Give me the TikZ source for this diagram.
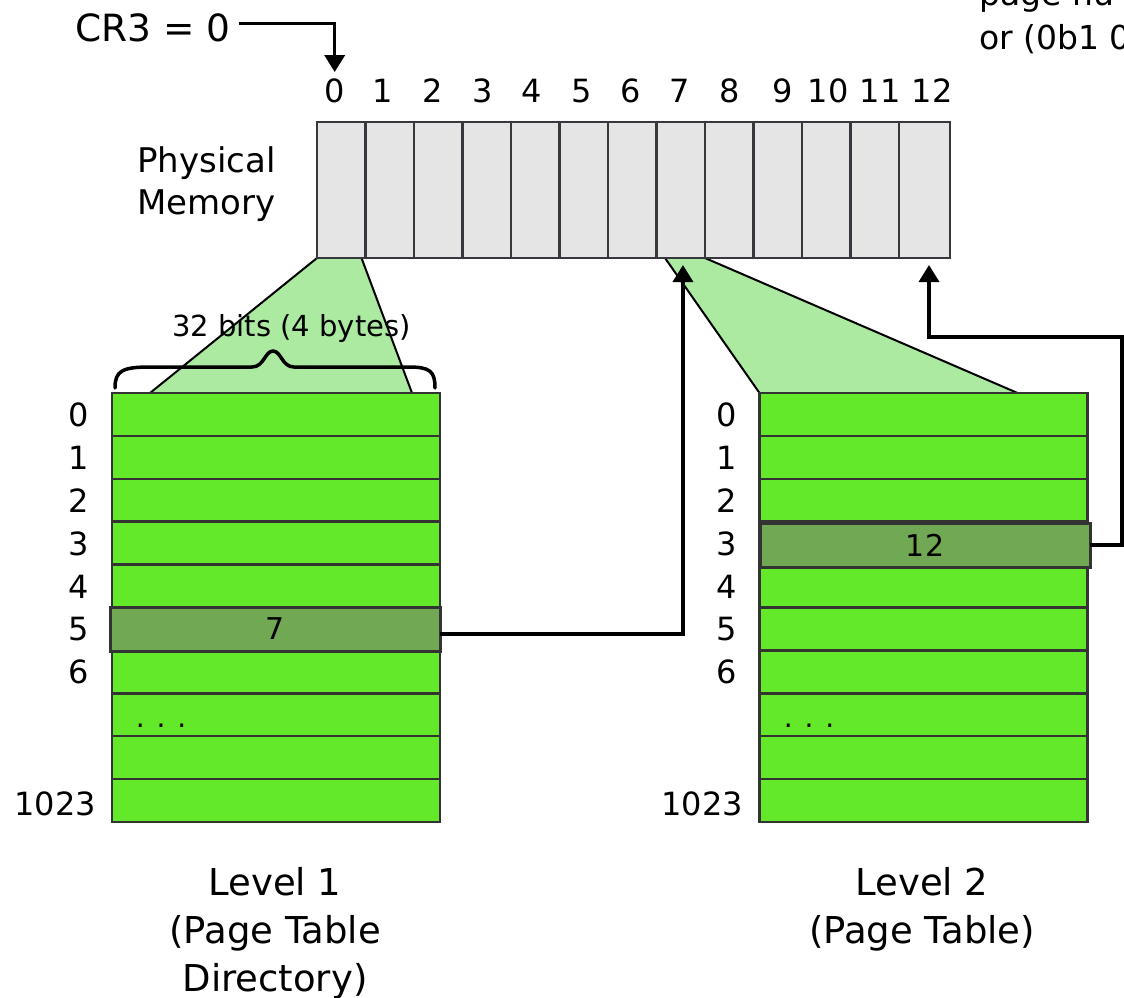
\documentclass[tikz,border=0pt]{standalone}
\usepackage{fontspec}
\setmainfont{DejaVu Sans}
\usetikzlibrary{arrows.meta,calc}
\definecolor{memfill}{RGB}{229,229,229}
\definecolor{memdraw}{RGB}{55,55,62}
\definecolor{rowfill}{RGB}{99,233,41}
\definecolor{hifill}{RGB}{112,168,84}
\definecolor{trap}{RGB}{171,234,160}
\definecolor{bord}{RGB}{51,51,51}
\tikzset{
  cell/.style={draw=memdraw,fill=memfill,line width=2.5pt,minimum width=48.5pt,minimum height=136pt,inner sep=0pt,outer sep=0pt},
  tabrow/.style={draw=bord,fill=rowfill,line width=2.5pt,minimum width=328pt,minimum height=42.9pt,inner sep=0pt,outer sep=0pt},
  hirow/.style={draw=bord,fill=hifill,line width=3pt,minimum width=330pt,minimum height=44pt,inner sep=0pt,outer sep=0pt,font=\fontsize{30}{36}\selectfont},
  num/.style={anchor=base,inner sep=2pt,font=\fontsize{32}{38}\selectfont},
  lab/.style={anchor=base,inner sep=0pt,font=\fontsize{32}{38}\selectfont},
  dotsl/.style={anchor=base,inner sep=0pt,font=\fontsize{28}{32}\selectfont},
  lvl/.style={anchor=north,align=center,inner sep=0pt,font=\fontsize{37}{48}\selectfont},
  arr/.style={line width=3.5pt,-{Triangle[length=17pt,width=20pt]}},
  edge/.style={line width=2pt,draw=black},
  bracestyle/.style={line width=3.5pt,line cap=round}
}
\begin{document}
\begin{tikzpicture}[x=1pt,y=-1pt]
\useasboundingbox (0,0) rectangle (1124,998);
\clip (0,0) rectangle (1124,998);

% invisible anchors for the trapezoids
\begin{scope}[overlay]
\foreach \i in {0,...,11} \path node[cell,draw=none,fill=none] (m\i) at ({317+48.5*\i+24.25},190) {};
\path node[cell,minimum width=51pt,draw=none,fill=none] (m12) at (924.5,190) {};
\foreach \i in {0,...,9} \path node[tabrow,draw=none,fill=none] (l1r\i) at (276,{393+42.9*\i+21.45}) {};
\foreach \i in {0,...,9} \path node[tabrow,draw=none,fill=none] (l2r\i) at (923.5,{393+42.9*\i+21.45}) {};
\end{scope}

% trapezoids
\fill[trap] (m0.south west) -- ([xshift=-4pt]m0.south east) -- ([xshift=-28pt]l1r0.north east) -- ([xshift=38pt]l1r0.north west) -- cycle;
\draw[edge] (m0.south west) -- ([xshift=38pt]l1r0.north west);
\draw[edge] ([xshift=-4pt]m0.south east) -- ([xshift=-28pt]l1r0.north east);
\fill[trap] ([xshift=8.5pt]m7.south west) -- (m7.south east) -- ([xshift=-70pt]l2r0.north east) -- (l2r0.north west) -- cycle;
\draw[edge] ([xshift=8.5pt]m7.south west) -- (l2r0.north west);
\draw[edge] (m7.south east) -- ([xshift=-70pt]l2r0.north east);

% memory cells
\foreach \i in {0,...,11} \node[cell] (c\i) at ({317+48.5*\i+24.25},190) {};
\node[cell,minimum width=51pt] (c12) at (924.5,190) {};

% top numbers
\foreach \i/\x in {0/334.7,1/383,2/433,3/483,4/532,5/582,6/631,7/680,8/730,9/783,10/828,11/880,12/932}
  \node[num] (n\i) at (\x,102) {\i};

% CR3
\node[anchor=base west,inner sep=0pt,font=\fontsize{37.5}{42}\selectfont] (cr3) at (75,42) {CR3 = 0};
\draw[arr] ([xshift=8pt,yshift=5pt]cr3.east) -| ([yshift=4pt]n0.north);

% Physical memory label
\node[anchor=north west,align=left,inner sep=0pt,font=\fontsize{34}{42}\selectfont] (pm) at (137,146) {Physical\\Memory};

% tables
\foreach \i in {0,...,9} \node[tabrow] (t1r\i) at (276,{393+42.9*\i+21.45}) {};
\foreach \i in {0,...,9} \node[tabrow] (t2r\i) at (923.5,{393+42.9*\i+21.45}) {};
\node[hirow] (l1h) at (275,629) {7};
\node[hirow] (l2h) at (925,545) {12};

% row labels
\foreach \i in {0,...,6} \node[lab] (a\i) at (79,{393+42.9*\i+21.45+12}) {\i};
\node[lab,anchor=base east] (a1023) at (96,815) {1023};
\foreach \i in {0,...,6} \node[lab] (b\i) at (727,{393+42.9*\i+21.45+12}) {\i};
\node[lab,anchor=base east] (b1023) at (743,815) {1023};
\node[dotsl] (d1) at (161,727) {. . .};
\node[dotsl] (d2) at (809,727) {. . .};

% brace and label
\draw[bracestyle] (115,388) .. controls (115,371) and (122,367) .. (150,367) -- (252,367) .. controls (264,367) and (265,351) .. (273,351) .. controls (281,351) and (282,367) .. (294,367) -- (408,367) .. controls (430,367) and (435,371) .. (435,388);
\node[anchor=base,inner sep=0pt,font=\fontsize{29}{34}\selectfont] (bits) at (291.5,336) {32 bits (4 bytes)};

% connectors
\draw[arr] ([yshift=-5pt]l1h.east) -| ([xshift=2.2pt,yshift=-7pt]c7.south);
\draw[arr] (l2h.east) -- ++(32,0) |- ([xshift=4.5pt,yshift=-79pt]c12.south) -- ([xshift=4.5pt,yshift=-7pt]c12.south);

% level captions
\node[lvl] (lv1) at (275,867) {Level 1\\(Page Table\\Directory)};
\node[lvl] (lv2) at (922,867) {Level 2\\(Page Table)};

% clipped text at top right
\node[anchor=base west,inner sep=0pt,font=\fontsize{33}{40}\selectfont] (pg1) at (979,6) {page nu};
\node[anchor=base west,inner sep=0pt,font=\fontsize{33}{40}\selectfont] (pg2) at (979,49) {or (0b1 0};
\end{tikzpicture}
\end{document}
